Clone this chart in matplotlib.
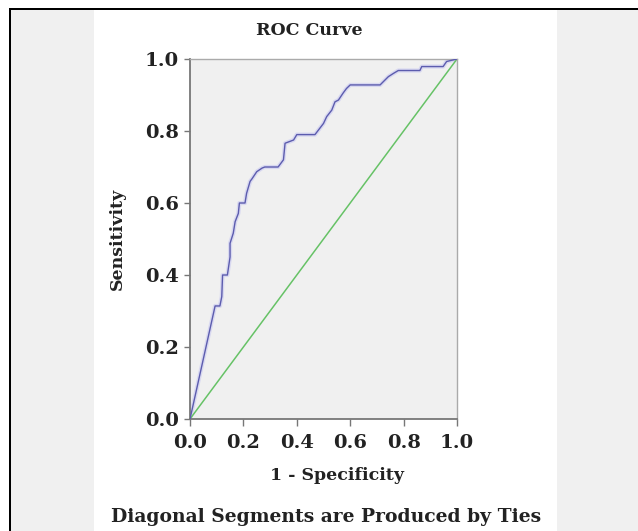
import matplotlib
matplotlib.use("Agg")
import matplotlib.pyplot as plt
from matplotlib.patches import Rectangle

W, H = 638, 531
fpr = [0.0, 0.094, 0.112, 0.119, 0.122, 0.14, 0.15, 0.15, 0.162, 0.169, 0.181, 0.185,
       0.206, 0.212, 0.225, 0.232, 0.25, 0.27, 0.28, 0.33, 0.35, 0.356, 0.388, 0.40,
       0.468, 0.50, 0.512, 0.531, 0.543, 0.556, 0.574, 0.586, 0.60, 0.712, 0.724,
       0.743, 0.762, 0.78, 0.861, 0.868, 0.948, 0.961, 1.0]
tpr = [0.0, 0.314, 0.314, 0.34, 0.40, 0.40, 0.45, 0.488, 0.516, 0.548, 0.571, 0.60,
       0.60, 0.627, 0.66, 0.667, 0.687, 0.697, 0.70, 0.70, 0.72, 0.766, 0.775, 0.79,
       0.79, 0.821, 0.84, 0.858, 0.881, 0.886, 0.906, 0.918, 0.928, 0.928, 0.937,
       0.951, 0.96, 0.968, 0.968, 0.979, 0.979, 0.993, 1.0]
ref_line = [0.0, 1.0]
ticks = [0.0, 0.2, 0.4, 0.6, 0.8, 1.0]
tick_labels = ["0.0", "0.2", "0.4", "0.6", "0.8", "1.0"]

FONT = "DejaVu Serif"

fig = plt.figure(figsize=(W / 100, H / 100), dpi=100, facecolor="white")

def fx(px):
    return px / W

def fy(py):
    return 1 - py / H

# background panels
fig.patches.append(Rectangle((fx(11), 0), fx(94) - fx(11), fy(10), transform=fig.transFigure,
                             facecolor="#f0f0f0", edgecolor="none", zorder=0))
fig.patches.append(Rectangle((fx(557), 0), 1 - fx(557), fy(10), transform=fig.transFigure,
                             facecolor="#f0f0f0", edgecolor="none", zorder=0))
fig.patches.append(Rectangle((fx(9), fy(10)), 1 - fx(9), fy(8) - fy(10), transform=fig.transFigure,
                             facecolor="black", edgecolor="none", zorder=0))
fig.patches.append(Rectangle((fx(9), 0), fx(11) - fx(9), fy(8), transform=fig.transFigure,
                             facecolor="black", edgecolor="none", zorder=0))

ax = fig.add_axes([fx(190), fy(419), fx(457) - fx(190), fy(59) - fy(419)])
ax.set_facecolor("#f0f0f0")
ax.plot(fpr, tpr, color="#c8c8f0", lw=3.0, alpha=0.6, zorder=2)
ax.plot(fpr, tpr, color="#5c5cae", lw=1.0, zorder=3)
ax.plot(ref_line, ref_line, color="#66c266", lw=1.1, zorder=2)
ax.set_xlim(0, 1)
ax.set_ylim(0, 1)
ax.set_xticks(ticks)
ax.set_yticks(ticks)
ax.set_xticklabels(tick_labels, fontfamily=FONT, fontweight="bold", fontsize=14, color="#222222")
ax.set_yticklabels(tick_labels, fontfamily=FONT, fontweight="bold", fontsize=14, color="#222222")
ax.tick_params(axis="x", length=5, width=1, color="#777777", pad=6)
ax.tick_params(axis="y", length=4, width=1, color="#777777", pad=4)
for s in ["left", "bottom"]:
    ax.spines[s].set_color("#777777")
    ax.spines[s].set_linewidth(1.3)
for s in ["top", "right"]:
    ax.spines[s].set_color("#aaaaaa")
    ax.spines[s].set_linewidth(1.0)

fig.text(fx(309), fy(31), "ROC Curve", ha="center", va="center", fontfamily=FONT,
         fontweight="bold", fontsize=12.5, color="#222222")
fig.text(fx(337), fy(475), "1 - Specificity", ha="center", va="center", fontfamily=FONT,
         fontweight="bold", fontsize=12.5, color="#222222")
fig.text(fx(117), fy(239), "Sensitivity", ha="center", va="center", rotation=90,
         fontfamily=FONT, fontweight="bold", fontsize=12.5, color="#222222")
fig.text(fx(326), fy(517), "Diagonal Segments are Produced by Ties", ha="center", va="center",
         fontfamily=FONT, fontweight="bold", fontsize=13.5, color="#222222")

fig.savefig("out.png", dpi=100, facecolor="white")
